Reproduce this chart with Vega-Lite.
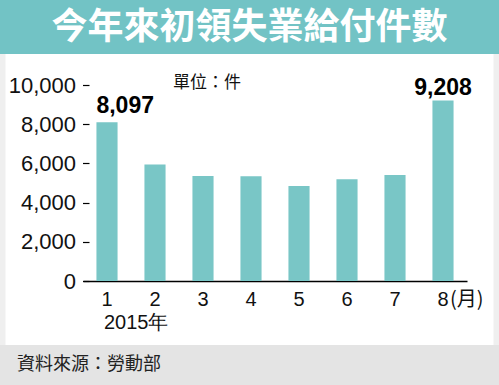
{
  "$schema": "https://vega.github.io/schema/vega-lite/v6.json",
  "padding": 0,
  "background": "#efefef",
  "spacing": 0,
  "center": true,
  "bounds": "flush",
  "config": {"view": {"stroke": null}, "font": "Liberation Sans"},
  "vconcat": [
    {
      "width": 499,
      "height": 54,
      "view": {"fill": "#72c3c5", "stroke": null},
      "data": {"values": [{"t": "今年來初領失業給付件數"}]},
      "mark": {"type": "text", "font": "Noto Sans CJK TC", "fontWeight": "bold", "fontSize": 36, "color": "#ffffff", "baseline": "middle", "dy": 1},
      "encoding": {"text": {"field": "t", "type": "nominal"}}
    },
    {
      "width": 488,
      "height": 291,
      "view": {"fill": "#ffffff", "stroke": null},
      "data": {"values": [
        {"month": "1", "value": 8097},
        {"month": "2", "value": 5950},
        {"month": "3", "value": 5360},
        {"month": "4", "value": 5350},
        {"month": "5", "value": 4850},
        {"month": "6", "value": 5190},
        {"month": "7", "value": 5410},
        {"month": "8", "value": 9208}
      ]},
      "encoding": {
        "x": {"field": "month", "type": "ordinal",
          "scale": {"range": [77.5, 461.5], "paddingInner": 0.56, "paddingOuter": 0.28},
          "axis": {"orient": "bottom", "offset": -64, "title": null, "labelAngle": 0, "labelFontSize": 20, "labelColor": "#111111", "labelPadding": 8, "ticks": false, "domainColor": "#000000", "domainWidth": 1.5, "grid": false}},
        "y": {"field": "value", "type": "quantitative",
          "scale": {"domain": [0, 10000], "range": [227, 31], "nice": false, "zero": true},
          "axis": {"orient": "left", "offset": -83.5, "title": null, "values": [0, 2000, 4000, 6000, 8000, 10000], "format": ",.0f", "labelFontSize": 22, "labelColor": "#111111", "labelPadding": 7, "tickSize": 6.5, "tickColor": "#000000", "tickWidth": 1.2, "domain": false, "grid": false}}
      },
      "layer": [
        {"mark": {"type": "bar", "color": "#79c6c6"}},
        {
          "transform": [{"filter": "datum.month == '1'"}],
          "mark": {"type": "text", "align": "left", "baseline": "alphabetic", "fontWeight": "bold", "fontSize": 23, "dy": -9, "color": "#000000"},
          "encoding": {"x": {"field": "month", "type": "ordinal", "bandPosition": 0}, "text": {"field": "value", "type": "quantitative", "format": ","}}
        },
        {
          "transform": [{"filter": "datum.month == '8'"}],
          "mark": {"type": "text", "align": "center", "baseline": "alphabetic", "fontWeight": "bold", "fontSize": 23, "dy": -6, "color": "#000000"},
          "encoding": {"text": {"field": "value", "type": "quantitative", "format": ","}}
        },
        {
          "transform": [{"filter": "datum.month == '3'"}],
          "mark": {"type": "text", "font": "Noto Sans CJK TC", "fontSize": 17, "align": "center", "baseline": "middle", "dx": 4, "dy": -2, "color": "#111111"},
          "encoding": {"y": {"datum": 10000, "type": "quantitative"}, "text": {"value": "單位：件"}}
        },
        {
          "transform": [{"filter": "datum.month == '8'"}],
          "mark": {"type": "text", "font": "Noto Sans CJK TC", "fontSize": 20, "align": "left", "baseline": "middle", "dx": 7, "dy": 19, "color": "#111111"},
          "encoding": {"y": {"datum": 0, "type": "quantitative"}, "text": {"value": "(月)"}}
        },
        {
          "transform": [{"filter": "datum.month == '1'"}],
          "mark": {"type": "text", "font": "Liberation Sans", "fontSize": 20, "align": "left", "baseline": "middle", "dx": -3, "dy": 42, "color": "#111111"},
          "encoding": {"y": {"datum": 0, "type": "quantitative"}, "text": {"value": "2015年"}}
        }
      ]
    },
    {
      "width": 499,
      "height": 40,
      "view": {"fill": "#e4e4e4", "stroke": null},
      "data": {"values": [{"t": "資料來源：勞動部"}]},
      "mark": {"type": "text", "font": "Noto Sans CJK TC", "fontSize": 18, "color": "#222222", "align": "left", "baseline": "middle", "dx": -232.5},
      "encoding": {"text": {"field": "t", "type": "nominal"}}
    }
  ]
}
